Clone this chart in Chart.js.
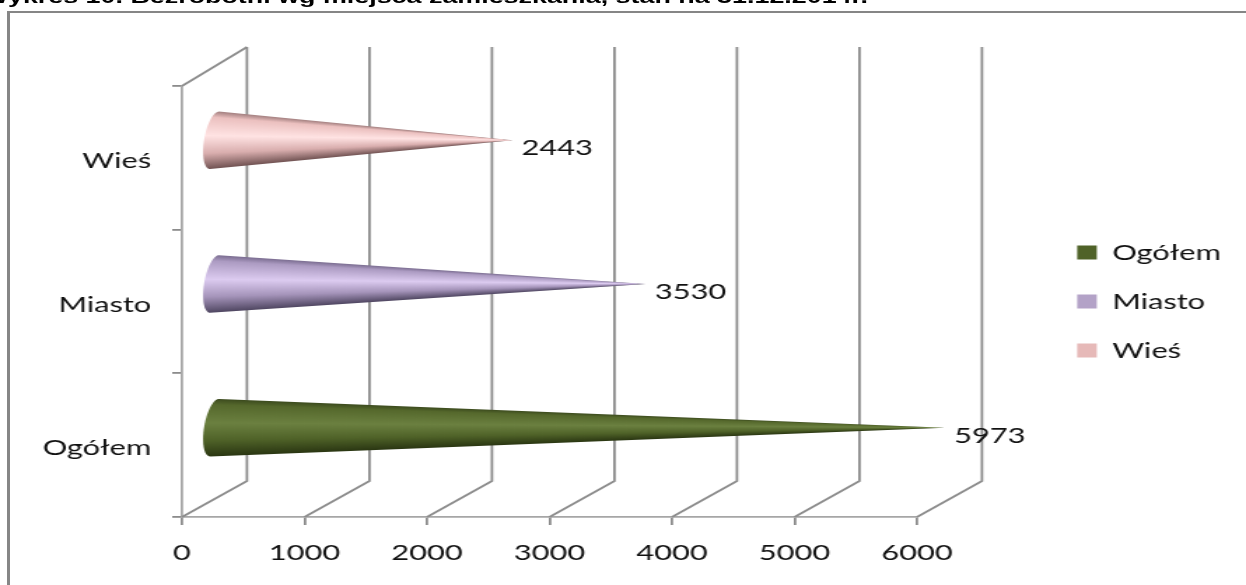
<!DOCTYPE html>
<html lang="pl">
<head>
<meta charset="utf-8">
<title>Bezrobotni wg miejsca zamieszkania</title>
<style>
  html, body { margin: 0; width: 1246px; height: 585px; overflow: hidden; background: #fff; }
  #frame { position: absolute; left: 7px; top: 11px; right: -5px; bottom: -5px; border-top: 2px solid #868686; border-left: 3px solid #868686; }
  /* the source picture is stretched sideways, so the title and chart are too */
  #stretch { position: absolute; left: 0; top: 0; width: 890px; height: 585px; transform: scaleX(1.4); transform-origin: 0 0; }
  #title { position: absolute; right: 270px; top: -13px; white-space: nowrap; font: bold 19.2px/20px "Liberation Sans", Arial, sans-serif; color: #000; }
  #chart { position: absolute; left: 0; top: 0; }
</style>
</head>
<body>
<div id="frame"></div>
<div id="stretch">
  <div id="title">Wykres 10. Bezrobotni wg miejsca zamieszkania, stan na 31.12.2014r.</div>
  <canvas id="chart" width="890" height="585"></canvas>
</div>
<script src="https://cdn.jsdelivr.net/npm/chart.js@4/dist/chart.umd.min.js"></script>
<script>
const categories = ['Ogółem', 'Miasto', 'Wieś'],
      values = [5973, 3530, 2443],
      xTicks = [0, 1000, 2000, 3000, 4000, 5000, 6000]

const legendColors = ['#4f6228', '#b3a2c7', '#e6b9b8']
const coneRamps = [
  ['#3c4b1e', '#55682c', '#6b8040', '#4f6228', '#2a3612'],
  ['#7d6f93', '#ac9bc2', '#dccbf0', '#a594ba', '#4e4560'],
  ['#a98585', '#ebc0bf', '#ffe3e3', '#d9aeae', '#6e5050']
]
const coneStops = [0, 0.1, 0.42, 0.72, 1]

const lineColor = '#8c8c8c',
      axisColor = '#a6a6a6',
      textColor = '#111',
      labelFont = { family: 'Lato', size: 22 },
      depthX = 46.4,
      depthTop = 39,
      depthBottom = 36,
      coneShift = 22.3,
      coneLift = 17.5

// back wall and floor of the 3d box, hung off the real scales
const wallPlugin = {
  id: 'wall',
  beforeDatasetsDraw(chart) {
    const { ctx, scales: { x }, chartArea: { top, bottom, left } } = chart
    ctx.save()
    ctx.strokeStyle = lineColor
    ctx.lineWidth = 1.8
    xTicks.forEach(tick => {
      const px = x.getPixelForValue(tick)
      ctx.beginPath()
      ctx.moveTo(px, bottom)
      ctx.lineTo(px + depthX, bottom - depthBottom)
      ctx.lineTo(px + depthX, top - depthTop)
      ctx.stroke()
    })
    ctx.beginPath()
    ctx.moveTo(left, top)
    ctx.lineTo(left + depthX, top - depthTop)
    ctx.stroke()
    ctx.restore()
  }
}

// each bar is shown as a lying cone, shaded by a conic gradient around its tip
const conePlugin = {
  id: 'cones',
  afterDatasetsDraw(chart) {
    const { ctx } = chart
    chart.getDatasetMeta(0).data.forEach((bar, index) => {
      const tipX = bar.x + coneShift,
            baseX = bar.base + coneShift,
            cy = bar.y - coneLift,
            ry = bar.height / 2,
            rx = 7.5,
            steps = 40,
            shade = ctx.createConicGradient(0, tipX, cy)

      coneStops.map((stop, i) => {
        const angle = Math.atan2(ry * (2 * stop - 1), baseX - tipX)
        return [(angle < 0 ? angle + 2 * Math.PI : angle) / (2 * Math.PI), coneRamps[index][i]]
      }).sort((a, b) => a[0] - b[0]).forEach(([offset, color]) => shade.addColorStop(offset, color))

      ctx.save()
      ctx.beginPath()
      ctx.moveTo(tipX, cy)
      for (let i = 0; i <= steps; i++) {
        const angle = (i / steps - 0.5) * Math.PI
        ctx.lineTo(baseX - rx * Math.cos(angle) - 3.2 * Math.sin(angle), cy + ry * Math.sin(angle))
      }
      ctx.closePath()
      ctx.fillStyle = shade
      ctx.fill()

      ctx.fillStyle = textColor
      ctx.font = `${labelFont.size}px ${labelFont.family}`
      ctx.textAlign = 'left'
      ctx.textBaseline = 'middle'
      ctx.fillText(String(values[index]), tipX + 6.5, cy + 8)
      ctx.restore()
    })
  }
}

new Chart(document.getElementById('chart').getContext('2d'), {
  type: 'bar',
  data: {
    labels: categories,
    datasets: [{
      data: values,
      backgroundColor: 'rgba(0,0,0,0)',
      barPercentage: 0.4,
      categoryPercentage: 1
    }]
  },
  plugins: [wallPlugin, conePlugin],
  options: {
    indexAxis: 'y',
    responsive: false,
    animation: false,
    devicePixelRatio: 1,
    layout: {
      padding: { top: 18, right: 8, bottom: 0, left: 0 }
    },
    scales: {
      x: {
        min: 0,
        max: 6000,
        afterBuildTicks: axis => { axis.ticks = xTicks.map(value => ({ value })) },
        afterFit: axis => { axis.height = 68 },
        grid: { drawOnChartArea: false, color: lineColor, lineWidth: 1.8, tickLength: 8 },
        border: { color: axisColor, width: 1.8 },
        ticks: { color: textColor, font: labelFont, padding: 15, maxRotation: 0, autoSkip: false, callback: value => String(value) }
      },
      y: {
        reverse: true,
        afterFit: axis => { axis.width = 130 },
        grid: { drawOnChartArea: false, offset: true, color: lineColor, lineWidth: 1.8, tickLength: 7 },
        border: { color: axisColor, width: 1.8 },
        ticks: { color: textColor, font: labelFont, padding: 15, labelOffset: 3 }
      },
      // empty axis that only keeps the legend away from the plot
      spacer: {
        type: 'category',
        position: 'right',
        labels: [''],
        afterFit: axis => { axis.width = 87.4 },
        grid: { display: false },
        border: { display: false },
        ticks: { display: false }
      }
    },
    plugins: {
      tooltip: { enabled: false },
      // blank block above the plot only, so the legend stays centred on it
      title: {
        display: true,
        text: ' ',
        fullSize: false,
        font: { size: 1, lineHeight: 1 },
        padding: { top: 67, bottom: 0 }
      },
      legend: {
        position: 'right',
        labels: {
          color: textColor,
          font: labelFont,
          boxWidth: 14,
          boxHeight: 14,
          padding: 27,
          generateLabels: () => categories.map((text, index) => ({
            text,
            fillStyle: legendColors[index],
            strokeStyle: legendColors[index],
            lineWidth: 0,
            fontColor: textColor,
            index
          }))
        }
      }
    }
  }
})
</script>
</body>
</html>
